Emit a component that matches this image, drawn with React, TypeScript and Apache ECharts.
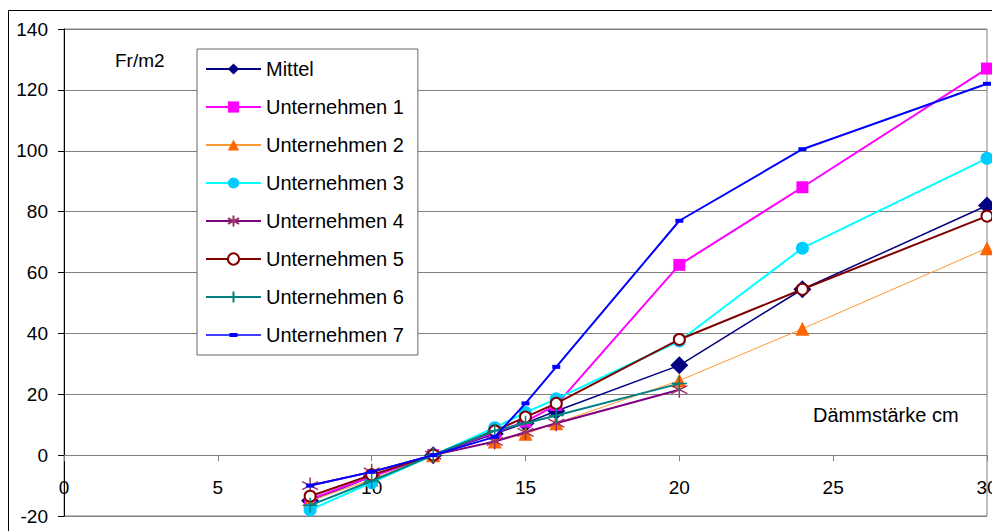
import React, { useEffect, useRef } from "react";
import * as echarts from "echarts";

const xValues = [8, 10, 12, 14, 15, 16, 20, 24, 30];

const seriesNames = [
  "Mittel",
  "Unternehmen 1",
  "Unternehmen 2",
  "Unternehmen 3",
  "Unternehmen 4",
  "Unternehmen 5",
  "Unternehmen 6",
  "Unternehmen 7",
];

const mittel = [-15, -7, 0, 7, 10.5, 14.5, 29.5, 54.5, 82];
const unt1 = [-14.5, -7, 0, 7.5, 11, 16.5, 62.5, 88, 127];
const unt2 = [-15, -8, 0, 4.5, 7, 10.5, 24.5, 41.5, 68];
const unt3 = [-18, -9, 0, 9, 14, 18.5, 37.5, 68, 97.5];
const unt4 = [-10, -5.5, 0, 4.5, 7.5, 10.5, 21.5];
const unt5 = [-13.5, -6.5, 0, 8, 12.5, 17, 38, 54.5, 78.5];
const unt6 = [-16.5, -8.5, 0, 8, 10.5, 13, 23.5];
const unt7 = [-10, -5.5, 0, 6, 17, 29, 77, 100.5, 122];

const yTicks = { min: -20, max: 140, interval: 20 };
const xTicks = { min: 0, max: 30, interval: 5 };

const yAxisTitle = "Fr/m2";
const xAxisTitle = "Dämmstärke cm";

const FONT = "'Liberation Sans', Arial, sans-serif";

const asterisk = "path://M5,0L5,10M0.67,2.5L9.33,7.5M0.67,7.5L9.33,2.5";
const plus = "path://M5,0L5,10M0,5L10,5";
// legend icon: line with a small dash marker, bbox 55 x 14
const dashLegendIcon =
  "path://M0,0L0.01,0L0.01,0.01Z M54.99,14L55,14L55,13.99Z M0,6.25L55,6.25L55,7.75L0,7.75Z M23.5,5L31.5,5L31.5,9L23.5,9Z";

function pairs(vals: number[]) {
  return vals.map((v, i) => [xValues[i], v]);
}

const GRID_TOP = 29;
const GRID_BOTTOM_PX = 516;

export default function App() {
  const ref = useRef<HTMLDivElement>(null);
  useEffect(() => {
    if (!ref.current) return;
    const chart = echarts.init(ref.current, undefined, { renderer: "svg" });
    const values = [mittel, unt1, unt2, unt3, unt4, unt5, unt6, unt7];
    const styles: any[] = [
      { line: "#000080", width: 1.5, symbol: "diamond", size: 18, item: { color: "#000080" } },
      { line: "#FF00FF", width: 2, symbol: "rect", size: 12, item: { color: "#FF00FF" } },
      { line: "#FF9933", width: 1, symbol: "triangle", size: 14, item: { color: "#FF6600" } },
      { line: "#00FFFF", width: 2, symbol: "circle", size: 13, item: { color: "#00CCFF" } },
      { line: "#800080", width: 2, symbol: asterisk, size: 16, item: { color: "#993366", borderColor: "#993366", borderWidth: 1.5 } },
      { line: "#800000", width: 2, symbol: "emptyCircle", size: 11, item: { color: "#800000", borderWidth: 1.5 } },
      { line: "#008080", width: 2, symbol: plus, size: 15, item: { color: "#008080", borderColor: "#008080", borderWidth: 1.5 } },
      { line: "#0000FF", width: 2, symbol: "rect", size: [8, 4], item: { color: "#0000FF" } },
    ];
    const series = values.map((vals, i) => ({
      name: seriesNames[i],
      type: "line",
      data: pairs(vals),
      symbol: styles[i].symbol,
      symbolSize: styles[i].size,
      showAllSymbol: true,
      lineStyle: { color: styles[i].line, width: styles[i].width },
      itemStyle: styles[i].item,
      clip: false,
      z: 2 + i,
    }));
    const legendData = seriesNames.map((name, i) =>
      i === 7 ? { name, icon: dashLegendIcon, itemStyle: { color: "#0000FF" } } : { name }
    );
    // distance from grid bottom (y = -20) up to y = 0
    const plotH = GRID_BOTTOM_PX - GRID_TOP;
    const zeroOffset = -plotH * ((0 - yTicks.min) / (yTicks.max - yTicks.min));
    chart.setOption({
      animation: false,
      backgroundColor: "#ffffff",
      textStyle: { fontFamily: FONT },
      grid: {
        left: 64,
        top: GRID_TOP,
        right: 5,
        bottom: 531 - GRID_BOTTOM_PX,
        show: true,
        borderColor: "#808080",
        borderWidth: 1,
        containLabel: false,
        outerBoundsMode: "none",
      },
      xAxis: {
        type: "value",
        min: xTicks.min,
        max: xTicks.max,
        interval: xTicks.interval,
        offset: zeroOffset,
        axisLine: { show: true, onZero: false, lineStyle: { color: "#808080", width: 1 } },
        axisTick: { show: true, length: 6, lineStyle: { color: "#808080" } },
        axisLabel: { color: "#000", fontSize: 19, fontFamily: FONT, margin: 23 },
        splitLine: { show: false },
      },
      yAxis: {
        type: "value",
        min: yTicks.min,
        max: yTicks.max,
        interval: yTicks.interval,
        axisLine: { show: true, onZero: false, lineStyle: { color: "#000", width: 1 } },
        axisTick: { show: true, length: 6, lineStyle: { color: "#000" } },
        axisLabel: { color: "#000", fontSize: 19, fontFamily: FONT, margin: 16 },
        splitLine: { show: true, lineStyle: { color: "#808080", width: 1 } },
      },
      legend: {
        orient: "vertical",
        left: 197,
        top: 49,
        padding: [10, 14, 10, 8],
        itemWidth: 55,
        itemHeight: 14,
        itemGap: 18,
        itemTextGap: 7,
        backgroundColor: "#ffffff",
        borderColor: "#666666",
        borderWidth: 1,
        textStyle: { color: "#000", fontSize: 20, fontFamily: FONT },
        data: legendData,
        z: 20,
      },
      graphic: [
        {
          type: "rect",
          shape: { x: 8.5, y: 10.5, width: 2000, height: 2000 },
          style: { fill: "none", stroke: "#000", lineWidth: 1 },
          silent: true,
        },
        {
          type: "text",
          left: 115,
          top: 51,
          style: { text: yAxisTitle, fill: "#000", font: `19px ${FONT}` },
          silent: true,
        },
        {
          type: "text",
          left: 813,
          top: 405,
          style: { text: xAxisTitle, fill: "#000", font: `20px ${FONT}` },
          silent: true,
        },
      ],
      series,
    });
    return () => chart.dispose();
  }, []);
  return (
    <div
      ref={ref}
      style={{ position: "fixed", left: 0, top: 0, width: 992, height: 531 }}
    />
  );
}
